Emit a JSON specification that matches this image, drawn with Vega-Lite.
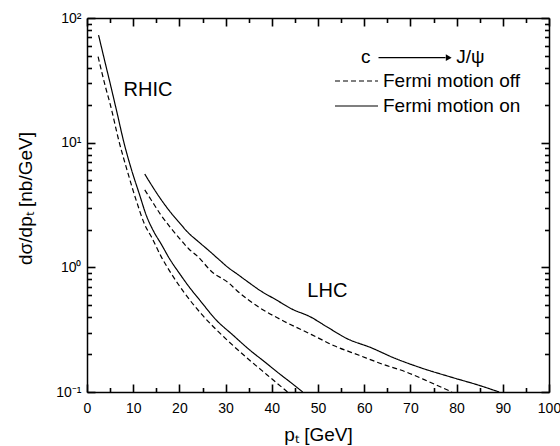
{
  "$schema": "https://vega.github.io/schema/vega-lite/v6.json",
  "width": 462,
  "height": 374,
  "autosize": {"type": "none"},
  "padding": {"left": 87, "top": 18, "right": 11, "bottom": 54},
  "background": "white",
  "config": {"font": "Liberation Sans", "view": {"stroke": null}, "axis": {"grid": false}},
  "datasets": {
    "curves": [
      {"coll": "RHIC", "fermi": "Fermi motion on", "pt": 2.5, "v": 73},
      {"coll": "RHIC", "fermi": "Fermi motion on", "pt": 4, "v": 42.7},
      {"coll": "RHIC", "fermi": "Fermi motion on", "pt": 5, "v": 30},
      {"coll": "RHIC", "fermi": "Fermi motion on", "pt": 6.5, "v": 17.4},
      {"coll": "RHIC", "fermi": "Fermi motion on", "pt": 8, "v": 10},
      {"coll": "RHIC", "fermi": "Fermi motion on", "pt": 9.5, "v": 6.3},
      {"coll": "RHIC", "fermi": "Fermi motion on", "pt": 11.4, "v": 3.8},
      {"coll": "RHIC", "fermi": "Fermi motion on", "pt": 12.8, "v": 2.63},
      {"coll": "RHIC", "fermi": "Fermi motion on", "pt": 14.5, "v": 1.92},
      {"coll": "RHIC", "fermi": "Fermi motion on", "pt": 16, "v": 1.55},
      {"coll": "RHIC", "fermi": "Fermi motion on", "pt": 18, "v": 1.15},
      {"coll": "RHIC", "fermi": "Fermi motion on", "pt": 20, "v": 0.895},
      {"coll": "RHIC", "fermi": "Fermi motion on", "pt": 22, "v": 0.705},
      {"coll": "RHIC", "fermi": "Fermi motion on", "pt": 24.4, "v": 0.546},
      {"coll": "RHIC", "fermi": "Fermi motion on", "pt": 28, "v": 0.377},
      {"coll": "RHIC", "fermi": "Fermi motion on", "pt": 31.5, "v": 0.288},
      {"coll": "RHIC", "fermi": "Fermi motion on", "pt": 35.3, "v": 0.216},
      {"coll": "RHIC", "fermi": "Fermi motion on", "pt": 38.5, "v": 0.174},
      {"coll": "RHIC", "fermi": "Fermi motion on", "pt": 41.6, "v": 0.1405},
      {"coll": "RHIC", "fermi": "Fermi motion on", "pt": 44, "v": 0.12},
      {"coll": "RHIC", "fermi": "Fermi motion on", "pt": 46.7, "v": 0.1},
      {"coll": "RHIC", "fermi": "Fermi motion off", "pt": 2.4, "v": 49},
      {"coll": "RHIC", "fermi": "Fermi motion off", "pt": 4, "v": 28},
      {"coll": "RHIC", "fermi": "Fermi motion off", "pt": 5, "v": 20.5},
      {"coll": "RHIC", "fermi": "Fermi motion off", "pt": 7, "v": 10},
      {"coll": "RHIC", "fermi": "Fermi motion off", "pt": 8.8, "v": 5.8},
      {"coll": "RHIC", "fermi": "Fermi motion off", "pt": 10.7, "v": 3.4},
      {"coll": "RHIC", "fermi": "Fermi motion off", "pt": 12.5, "v": 2.2},
      {"coll": "RHIC", "fermi": "Fermi motion off", "pt": 14, "v": 1.74},
      {"coll": "RHIC", "fermi": "Fermi motion off", "pt": 16, "v": 1.23},
      {"coll": "RHIC", "fermi": "Fermi motion off", "pt": 18.2, "v": 0.895},
      {"coll": "RHIC", "fermi": "Fermi motion off", "pt": 21, "v": 0.63},
      {"coll": "RHIC", "fermi": "Fermi motion off", "pt": 24.7, "v": 0.425},
      {"coll": "RHIC", "fermi": "Fermi motion off", "pt": 30, "v": 0.268},
      {"coll": "RHIC", "fermi": "Fermi motion off", "pt": 35.2, "v": 0.18},
      {"coll": "RHIC", "fermi": "Fermi motion off", "pt": 39, "v": 0.137},
      {"coll": "RHIC", "fermi": "Fermi motion off", "pt": 43.4, "v": 0.1},
      {"coll": "LHC", "fermi": "Fermi motion on", "pt": 12.5, "v": 5.6},
      {"coll": "LHC", "fermi": "Fermi motion on", "pt": 14, "v": 4.55},
      {"coll": "LHC", "fermi": "Fermi motion on", "pt": 16.1, "v": 3.47},
      {"coll": "LHC", "fermi": "Fermi motion on", "pt": 18, "v": 2.79},
      {"coll": "LHC", "fermi": "Fermi motion on", "pt": 20, "v": 2.28},
      {"coll": "LHC", "fermi": "Fermi motion on", "pt": 22, "v": 1.88},
      {"coll": "LHC", "fermi": "Fermi motion on", "pt": 24, "v": 1.62},
      {"coll": "LHC", "fermi": "Fermi motion on", "pt": 26.5, "v": 1.35},
      {"coll": "LHC", "fermi": "Fermi motion on", "pt": 28.5, "v": 1.16},
      {"coll": "LHC", "fermi": "Fermi motion on", "pt": 30.8, "v": 0.98},
      {"coll": "LHC", "fermi": "Fermi motion on", "pt": 32.3, "v": 0.895},
      {"coll": "LHC", "fermi": "Fermi motion on", "pt": 34.5, "v": 0.78},
      {"coll": "LHC", "fermi": "Fermi motion on", "pt": 37.3, "v": 0.658},
      {"coll": "LHC", "fermi": "Fermi motion on", "pt": 41, "v": 0.547},
      {"coll": "LHC", "fermi": "Fermi motion on", "pt": 44.5, "v": 0.46},
      {"coll": "LHC", "fermi": "Fermi motion on", "pt": 48.1, "v": 0.405},
      {"coll": "LHC", "fermi": "Fermi motion on", "pt": 52, "v": 0.332},
      {"coll": "LHC", "fermi": "Fermi motion on", "pt": 56.1, "v": 0.27},
      {"coll": "LHC", "fermi": "Fermi motion on", "pt": 61.7, "v": 0.225},
      {"coll": "LHC", "fermi": "Fermi motion on", "pt": 66.1, "v": 0.19},
      {"coll": "LHC", "fermi": "Fermi motion on", "pt": 71.9, "v": 0.158},
      {"coll": "LHC", "fermi": "Fermi motion on", "pt": 79, "v": 0.131},
      {"coll": "LHC", "fermi": "Fermi motion on", "pt": 84.9, "v": 0.113},
      {"coll": "LHC", "fermi": "Fermi motion on", "pt": 89.2, "v": 0.1},
      {"coll": "LHC", "fermi": "Fermi motion off", "pt": 12.5, "v": 4.18},
      {"coll": "LHC", "fermi": "Fermi motion off", "pt": 13.9, "v": 3.47},
      {"coll": "LHC", "fermi": "Fermi motion off", "pt": 16, "v": 2.63},
      {"coll": "LHC", "fermi": "Fermi motion off", "pt": 18, "v": 2.1},
      {"coll": "LHC", "fermi": "Fermi motion off", "pt": 20, "v": 1.71},
      {"coll": "LHC", "fermi": "Fermi motion off", "pt": 22, "v": 1.41},
      {"coll": "LHC", "fermi": "Fermi motion off", "pt": 24, "v": 1.22},
      {"coll": "LHC", "fermi": "Fermi motion off", "pt": 26.9, "v": 0.93},
      {"coll": "LHC", "fermi": "Fermi motion off", "pt": 30.8, "v": 0.743},
      {"coll": "LHC", "fermi": "Fermi motion off", "pt": 32.3, "v": 0.658},
      {"coll": "LHC", "fermi": "Fermi motion off", "pt": 37.3, "v": 0.476},
      {"coll": "LHC", "fermi": "Fermi motion off", "pt": 42, "v": 0.38},
      {"coll": "LHC", "fermi": "Fermi motion off", "pt": 48.5, "v": 0.29},
      {"coll": "LHC", "fermi": "Fermi motion off", "pt": 53.5, "v": 0.235},
      {"coll": "LHC", "fermi": "Fermi motion off", "pt": 58.9, "v": 0.197},
      {"coll": "LHC", "fermi": "Fermi motion off", "pt": 64, "v": 0.167},
      {"coll": "LHC", "fermi": "Fermi motion off", "pt": 69, "v": 0.145},
      {"coll": "LHC", "fermi": "Fermi motion off", "pt": 74, "v": 0.121},
      {"coll": "LHC", "fermi": "Fermi motion off", "pt": 79, "v": 0.1}
    ],
    "names": [
      {"text": "RHIC", "pt": 7.9, "v": 23.5},
      {"text": "LHC", "pt": 47.7, "v": 0.577}
    ],
    "legendText": [
      {"text": "c", "pt": 59.3, "v": 43.6},
      {"text": "J/ψ", "pt": 79.9, "v": 43.6}
    ],
    "arrow": [
      {"pt": 63.1, "pt2": 77.6, "v": 48.1}
    ],
    "arrowHead": [
      {"pt": 78.3, "v": 48.1}
    ]
  },
  "layer": [
    {
      "data": {"name": "curves"},
      "mark": {"type": "line", "color": "black", "strokeWidth": 1.2, "interpolate": "monotone"},
      "encoding": {
        "x": {
          "field": "pt", "type": "quantitative",
          "scale": {"domain": [0, 100], "nice": false, "zero": false},
          "axis": {
            "orient": "bottom", "zindex": 1,
            "domainColor": "black", "domainWidth": 1.5,
            "title": "pₜ [GeV]", "titleFontSize": 19, "titleFontWeight": "normal", "titleColor": "black",
            "titleBaseline": "alphabetic", "titleY": 48,
            "values": [0, 10, 20, 30, 40, 50, 60, 70, 80, 90, 100],
            "format": "d", "labelFontSize": 14, "labelColor": "black",
            "labelFlush": false, "labelOverlap": false,
            "ticks": false, "tickSize": 0, "labelPadding": 9
          }
        },
        "y": {
          "field": "v", "type": "quantitative",
          "scale": {"type": "log", "domain": [0.1, 100], "nice": false},
          "axis": {
            "orient": "left", "zindex": 1,
            "domainColor": "black", "domainWidth": 1.5,
            "title": "dσ/dpₜ [nb/GeV]", "titleFontSize": 19, "titleFontWeight": "normal", "titleColor": "black",
            "titleBaseline": "alphabetic", "titleAngle": -90, "titleX": -56, "titleY": 180,
            "values": [0.1, 1, 10, 100],
            "labelExpr": "datum.value === 0.1 ? '10⁻¹' : datum.value === 1 ? '10⁰' : datum.value === 10 ? '10¹' : '10²'",
            "labelFontSize": 14, "labelColor": "black",
            "labelFlush": false, "labelOverlap": false,
            "ticks": false, "tickSize": 0, "labelPadding": 6
          }
        },
        "strokeDash": {
          "field": "fermi", "type": "nominal",
          "scale": {"domain": ["Fermi motion off", "Fermi motion on"], "range": [[5, 3], [1, 0]]},
          "legend": {
            "orient": "none", "legendX": 247, "legendY": 53, "title": null,
            "symbolType": "stroke", "symbolSize": 1849, "symbolStrokeWidth": 1.2, "symbolStrokeColor": "black",
            "clipHeight": 20, "rowPadding": 5,
            "labelFontSize": 19, "labelOffset": 4, "labelColor": "black", "labelLimit": 300
          }
        },
        "detail": {"field": "coll", "type": "nominal"}
      }
    },
    {
      "data": {"name": "names"},
      "mark": {"type": "text", "align": "left", "baseline": "alphabetic", "fontSize": 20, "color": "black"},
      "encoding": {
        "x": {
          "field": "pt", "type": "quantitative",
          "axis": {"orient": "top", "offset": -374, "zindex": 2, "title": null, "labels": false, "domain": false,
            "values": [0, 10, 20, 30, 40, 50, 60, 70, 80, 90, 100], "tickSize": 8, "tickColor": "black", "tickWidth": 1.6}
        },
        "y": {
          "field": "v", "type": "quantitative",
          "axis": {"orient": "right", "offset": -462, "zindex": 2, "title": null, "labels": false, "domain": false,
            "values": [0.1, 1, 10, 100], "tickSize": 8, "tickColor": "black", "tickWidth": 1.6}
        },
        "text": {"field": "text", "type": "nominal"}
      }
    },
    {
      "data": {"name": "legendText"},
      "mark": {"type": "text", "align": "left", "baseline": "alphabetic", "fontSize": 19, "color": "black"},
      "encoding": {
        "x": {
          "field": "pt", "type": "quantitative",
          "axis": {"orient": "top", "offset": -374, "zindex": 2, "title": null, "labels": false, "domain": false,
            "values": [5, 15, 25, 35, 45, 55, 65, 75, 85, 95], "tickSize": 4.5, "tickColor": "black", "tickWidth": 1.6}
        },
        "y": {
          "field": "v", "type": "quantitative",
          "axis": {"orient": "right", "offset": -462, "zindex": 2, "title": null, "labels": false, "domain": false,
            "values": [0.2, 0.3, 0.4, 0.5, 0.6, 0.7, 0.8, 0.9, 2, 3, 4, 5, 6, 7, 8, 9, 20, 30, 40, 50, 60, 70, 80, 90], "tickSize": 4.5, "tickColor": "black", "tickWidth": 1.6}
        },
        "text": {"field": "text", "type": "nominal"}
      }
    },
    {
      "data": {"name": "arrow"},
      "mark": {"type": "rule", "color": "black", "strokeWidth": 1.2},
      "encoding": {
        "x": {
          "field": "pt", "type": "quantitative",
          "axis": {"orient": "bottom", "offset": -374, "zindex": 2, "title": null, "labels": false,
            "domain": true, "domainColor": "black", "domainWidth": 1.5,
            "values": [0, 10, 20, 30, 40, 50, 60, 70, 80, 90, 100], "tickSize": 8, "tickColor": "black", "tickWidth": 1.6}
        },
        "x2": {"field": "pt2"},
        "y": {
          "field": "v", "type": "quantitative",
          "axis": {"orient": "left", "offset": -462, "zindex": 2, "title": null, "labels": false,
            "domain": true, "domainColor": "black", "domainWidth": 1.5,
            "values": [0.1, 1, 10, 100], "tickSize": 8, "tickColor": "black", "tickWidth": 1.6}
        }
      }
    },
    {
      "data": {"name": "arrowHead"},
      "mark": {"type": "point", "shape": "triangle-right", "filled": true, "color": "black", "size": 45, "opacity": 1},
      "encoding": {
        "x": {
          "field": "pt", "type": "quantitative",
          "axis": {"orient": "bottom", "offset": -374, "zindex": 2, "title": null, "labels": false, "domain": false,
            "values": [5, 15, 25, 35, 45, 55, 65, 75, 85, 95], "tickSize": 4.5, "tickColor": "black", "tickWidth": 1.6}
        },
        "y": {
          "field": "v", "type": "quantitative",
          "axis": {"orient": "left", "offset": -462, "zindex": 2, "title": null, "labels": false, "domain": false,
            "values": [0.2, 0.3, 0.4, 0.5, 0.6, 0.7, 0.8, 0.9, 2, 3, 4, 5, 6, 7, 8, 9, 20, 30, 40, 50, 60, 70, 80, 90], "tickSize": 4.5, "tickColor": "black", "tickWidth": 1.6}
        }
      }
    }
  ],
  "resolve": {"axis": {"x": "independent", "y": "independent"}}
}
